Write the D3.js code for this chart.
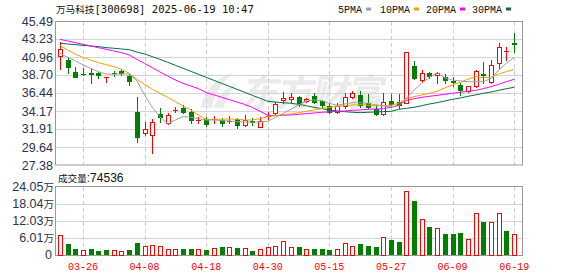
<!DOCTYPE html>
<html>
<head>
<meta charset="utf-8">
<script src="https://cdn.jsdelivr.net/npm/d3@7"></script>
<style>
  body { margin: 0; background: #fff; }
  svg { display: block; font-family: "Liberation Sans", Arial, sans-serif; }
</style>
</head>
<body>
<div id="chart"></div>
<script>
const width = 578;
const height = 276;

// trading days shown
const dates = ["03-21","03-24","03-25","03-26","03-27","03-28","03-31","04-01","04-02","04-03",
  "04-07","04-08","04-09","04-10","04-11","04-14","04-15","04-16","04-17","04-18",
  "04-21","04-22","04-23","04-24","04-25","04-28","04-29","04-30","05-06","05-07",
  "05-08","05-09","05-12","05-13","05-14","05-15","05-16","05-19","05-20","05-21",
  "05-22","05-23","05-26","05-27","05-28","05-29","05-30","06-03","06-04","06-05",
  "06-06","06-09","06-10","06-11","06-12","06-13","06-16","06-17","06-18","06-19"];

const opens = [41.05,40.62,39.08,38.84,38.99,38.99,38.45,38.98,39.16,38.55,
  34.01,31.45,31.10,33.79,32.70,34.27,34.55,34.09,33.00,33.13,
  33.08,33.04,32.88,33.13,32.42,32.96,32.20,33.50,33.96,35.56,
  35.64,35.89,35.47,36.06,35.39,34.80,34.09,34.80,35.97,36.19,
  35.14,34.38,33.75,35.43,35.35,35.14,39.83,38.07,38.99,38.70,
  38.49,37.90,37.44,36.69,37.36,38.79,37.78,40.17,41.70,42.73];
const highs = [42.85,40.95,39.70,39.54,39.54,39.12,38.49,39.24,39.45,38.85,
  35.97,32.75,33.15,34.51,33.88,34.63,34.93,34.38,33.46,33.46,
  33.59,33.33,33.50,33.25,33.67,33.33,33.38,34.01,35.34,36.60,
  36.48,36.06,35.85,36.40,35.56,35.14,35.14,36.40,36.73,36.73,
  36.31,34.93,36.40,36.31,36.31,41.65,40.46,39.33,39.12,39.12,
  38.83,38.41,37.74,37.32,39.33,40.38,40.59,42.69,42.27,44.00];
const lows = [39.40,38.91,38.41,38.70,37.65,38.28,37.78,38.57,38.74,37.40,
  30.31,31.15,28.93,32.83,32.54,34.01,33.88,32.62,32.62,32.29,
  32.62,32.29,32.62,32.08,32.29,32.37,32.20,33.13,33.80,35.14,
  35.35,34.80,35.35,35.14,34.72,33.88,33.88,34.51,35.85,34.72,
  34.51,33.67,33.67,34.80,34.55,35.14,38.16,37.78,38.28,37.74,
  37.74,37.36,36.19,36.60,37.23,37.65,37.65,39.54,40.59,41.64];
const closes = [41.95,39.65,38.41,38.79,38.78,38.66,38.49,38.92,38.94,37.98,
  30.94,31.91,32.75,33.38,33.67,34.32,34.09,32.98,33.06,32.56,
  33.14,32.62,32.95,32.46,33.04,32.80,32.92,33.58,35.05,35.85,
  35.93,35.22,35.68,35.35,34.93,34.09,34.80,35.89,36.40,34.97,
  34.72,33.75,35.35,35.05,34.93,41.55,38.28,38.99,38.58,38.99,
  38.07,37.86,36.81,37.28,39.20,38.75,39.96,42.18,41.74,42.65];
const volumes = [70700,38900,21200,17700,21200,14100,17700,17700,14100,17700,
  42400,31800,35400,31800,21200,21200,21200,21200,21200,17700,
  24800,28300,28300,24800,24800,14100,21200,28300,31800,49500,
  29000,28300,21200,21200,21200,17700,21200,42400,31800,38900,
  31800,28300,63700,53100,46000,226000,191000,127000,99000,95500,
  74300,74300,77800,56600,147500,116700,115600,147500,84900,74536];

const ma5 = [41.43,40.92,40.50,39.96,39.54,39.12,38.83,38.79,38.83,38.83,
  37.99,36.19,34.63,33.46,32.54,33.04,33.46,33.38,33.21,33.04,
  33.04,32.96,32.92,32.83,32.79,32.75,32.79,32.87,33.38,33.88,
  34.38,34.93,35.43,35.56,35.47,35.14,34.89,35.05,35.22,35.22,
  35.14,34.97,34.80,34.72,34.80,35.77,36.81,37.65,38.41,38.99,
  38.35,38.07,37.95,37.86,37.86,37.86,38.28,39.33,40.17,40.92];
const ma10 = [42.43,41.85,41.34,40.92,40.59,40.25,40.00,39.75,39.41,38.91,
  38.16,37.53,36.90,36.40,35.89,35.35,34.80,34.30,33.67,33.13,
  33.13,33.13,33.17,33.13,33.04,33.04,33.21,33.46,33.59,33.71,
  33.80,33.96,34.13,34.30,34.47,34.63,34.76,34.84,34.93,34.97,
  34.89,34.84,34.84,34.89,35.14,35.72,35.98,36.19,36.40,36.65,
  37.07,37.44,37.78,38.16,38.49,38.37,38.41,38.83,39.12,39.41];
const ma20 = [43.19,42.98,42.77,42.56,42.35,42.14,41.93,41.72,41.51,41.22,
  40.67,40.17,39.62,39.08,38.58,38.07,37.65,37.32,36.98,36.50,
  36.20,35.90,35.60,35.30,35.00,34.63,34.13,33.63,33.59,33.63,
  33.67,33.75,33.84,33.92,34.01,34.05,34.13,34.17,34.26,34.30,
  34.38,34.42,34.47,34.63,34.89,35.51,35.72,35.89,36.02,36.14,
  36.27,36.40,36.52,36.65,36.77,36.98,37.23,37.53,37.86,38.16];
const ma30 = [42.69,42.60,42.52,42.43,42.35,42.27,42.14,42.06,41.97,41.89,
  41.59,41.34,41.01,40.67,40.30,39.92,39.54,39.16,38.79,38.41,
  38.03,37.65,37.28,36.90,36.52,36.14,35.77,35.39,35.30,35.22,
  35.14,35.01,34.84,34.63,34.47,34.30,34.17,34.09,34.01,33.96,
  34.01,34.05,34.09,34.13,34.38,34.51,34.63,34.84,35.05,35.22,
  35.43,35.64,35.81,36.02,36.19,36.40,36.56,36.77,36.98,37.15];

const priceTicks = ["45.49","43.23","40.96","38.70","36.44","34.17","31.91","29.64","27.38"];
const volTicks = [240500, 180400, 120300, 60100, 0];
const volTickLabels = ["24.05", "18.04", "12.03", "6.01", "0"];
const dateTicks = ["03-26","04-08","04-18","04-30","05-15","05-27","06-09","06-19"];

const maNames = ["5PMA", "10PMA", "20PMA", "30PMA"];
const maSeries = [ma5, ma10, ma20, ma30];
const maColors = ["#a0a0a0", "#f0a000", "#ff00ff", "#00703c"];

const RED = "#ff0000";
const GREEN = "#008000";
const GRID = "#d4d4d4";
const FRAME = "#999999";
const AXIS_TEXT = "#2a3350";

const svg = d3.select("#chart")
  .append("svg")
  .attr("width", width)
  .attr("height", height);

const x = d3.scaleBand().domain(dates).range([56, 518]);
const cx = d => Math.round(x(d) + x.bandwidth() / 2);
const y = d3.scaleLinear().domain([27.38, 45.49]).range([165, 21]);
const yv = d3.scaleLinear().domain([0, 240500]).range([255, 187]);
const snap = v => Math.round(v) + 0.5;

// watermark
const wm = svg.append("g").attr("fill", "#eaeaea");
wm.append("path")
  .attr("d", "M201,108 C203,92 214,79 234,72 C222,82 214,94 212,108 Z M214,108 C217,96 226,87 238,83 C230,91 225,99 224,108 Z");
wm.append("text")
  .attr("transform", "translate(241,106) skewX(-12)")
  .style("font-family", "'Noto Sans CJK SC'")
  .style("font-weight", "bold")
  .style("font-size", "37px")
  .style("letter-spacing", "-2px")
  .text("东方财富");

// main grid
const grid = svg.append("g");
grid.selectAll("line.h")
  .data(priceTicks.slice(1, -1))
  .join("line")
  .attr("x1", 56).attr("x2", 522)
  .attr("y1", d => snap(y(+d))).attr("y2", d => snap(y(+d)))
  .attr("stroke", GRID);
grid.selectAll("line.v")
  .data(dateTicks)
  .join("line")
  .attr("x1", d => cx(d) + 0.5).attr("x2", d => cx(d) + 0.5)
  .attr("y1", 22).attr("y2", 165)
  .attr("stroke", "#cccccc")
  .attr("stroke-dasharray", "4,3");

// volume grid
grid.append("g").selectAll("line")
  .data(volTicks.slice(1, -1))
  .join("line")
  .attr("x1", 56).attr("x2", 522)
  .attr("y1", d => snap(yv(d))).attr("y2", d => snap(yv(d)))
  .attr("stroke", GRID);
grid.append("g").selectAll("line")
  .data(dateTicks)
  .join("line")
  .attr("x1", d => cx(d) + 0.5).attr("x2", d => cx(d) + 0.5)
  .attr("y1", 187).attr("y2", 255)
  .attr("stroke", "#cccccc")
  .attr("stroke-dasharray", "4,3");

// frames
svg.append("rect").attr("x", 55.5).attr("y", 21.5).attr("width", 467).attr("height", 143.5)
  .attr("fill", "none").attr("stroke", FRAME);
svg.append("rect").attr("x", 55.5).attr("y", 186.5).attr("width", 467).attr("height", 69)
  .attr("fill", "none").attr("stroke", FRAME);

// candles
const candles = dates.map((d, i) => ({
  date: d, open: opens[i], high: highs[i], low: lows[i], close: closes[i],
  vol: volumes[i], volUp: closes[i] >= (i ? closes[i - 1] : opens[i])
}));

const cg = svg.append("g");
candles.forEach(c => {
  const up = c.close >= c.open;
  const col = up ? RED : GREEN;
  const xc = cx(c.date);
  const top = Math.round(y(Math.max(c.open, c.close)));
  const bot = Math.round(y(Math.min(c.open, c.close)));
  const hi = Math.round(y(c.high));
  const lo = Math.round(y(c.low));
  if (up) {
    if (hi < top) cg.append("line").attr("x1", xc + 0.5).attr("x2", xc + 0.5).attr("y1", hi).attr("y2", top).attr("stroke", col);
    if (lo > bot) cg.append("line").attr("x1", xc + 0.5).attr("x2", xc + 0.5).attr("y1", bot).attr("y2", lo + 1).attr("stroke", col);
    if (bot - top < 2) {
      cg.append("rect").attr("x", xc - 2).attr("y", top).attr("width", 5).attr("height", Math.max(1, bot - top)).attr("fill", col);
    } else {
      cg.append("rect").attr("x", xc - 1.5).attr("y", top + 0.5).attr("width", 4).attr("height", bot - top)
        .attr("fill", "#fff").attr("stroke", col);
    }
  } else {
    cg.append("line").attr("x1", xc + 0.5).attr("x2", xc + 0.5).attr("y1", hi).attr("y2", lo + 1).attr("stroke", col);
    cg.append("rect").attr("x", xc - 2).attr("y", top).attr("width", 5).attr("height", Math.max(1, bot - top + 1)).attr("fill", col);
  }
});

// moving averages
const line = d3.line().x((d, i) => x(dates[i]) + x.bandwidth() / 2).y(d => y(d));
svg.append("g").selectAll("path")
  .data(maSeries.slice().reverse())
  .join("path")
  .attr("d", line)
  .attr("fill", "none")
  .attr("stroke", (d, i) => maColors[maColors.length - 1 - i])
  .attr("stroke-width", 1);

// volume bars
svg.append("g").selectAll("rect")
  .data(candles)
  .join("rect")
  .attr("x", d => d.volUp ? cx(d.date) - 1.5 : cx(d.date) - 2)
  .attr("y", d => d.volUp ? Math.round(yv(d.vol)) + 0.5 : Math.round(yv(d.vol)))
  .attr("width", d => d.volUp ? 4 : 5)
  .attr("height", d => 255 - Math.round(yv(d.vol)))
  .attr("fill", d => d.volUp ? "#fff" : GREEN)
  .attr("stroke", d => d.volUp ? RED : "none");

// price axis labels
const yAxis = d3.axisLeft(y)
  .tickValues(priceTicks.map(Number))
  .tickFormat((d, i) => priceTicks[i])
  .tickSize(0)
  .tickPadding(2);
svg.append("g")
  .attr("transform", "translate(55,0)")
  .call(yAxis)
  .call(g => g.select(".domain").remove())
  .selectAll("text")
  .attr("fill", AXIS_TEXT)
  .style("font-family", "'Liberation Sans', Arial, sans-serif")
  .style("font-size", "12.5px");

// volume axis labels
const vl = svg.append("g").attr("fill", AXIS_TEXT).style("font-size", "12.5px");
volTicks.forEach((v, i) => {
  const t = vl.append("text")
    .attr("x", i === volTicks.length - 1 ? 52 : 54)
    .attr("y", yv(v))
    .attr("dy", "0.35em")
    .attr("text-anchor", "end")
    .text(volTickLabels[i]);
  if (v > 0) t.append("tspan").style("font-family", "'Noto Sans CJK SC'").style("font-size", "10.5px").text("万");
});

// date axis
const xAxis = d3.axisBottom(x)
  .tickValues(dateTicks)
  .tickSize(0)
  .tickPadding(0);
svg.append("g")
  .attr("transform", "translate(0,262)")
  .call(xAxis)
  .call(g => g.select(".domain").remove())
  .selectAll("text")
  .attr("fill", RED)
  .attr("dy", "0.75em")
  .style("font-family", "'Liberation Mono', monospace")
  .style("font-size", "10px");

// title
const title = svg.append("text").attr("x", 56).attr("y", 13).attr("fill", "#111");
title.append("tspan").style("font-family", "'Noto Sans CJK SC'").style("font-size", "9.6px").text("万马科技");
title.append("tspan").style("font-family", "'DejaVu Sans Mono', monospace").style("font-size", "10.6px")
  .text("[300698] 2025-06-19 10:47");

// legend
const legendX = [338, 380, 426, 472];
const legend = svg.append("g");
maNames.forEach((n, i) => {
  const t = legend.append("text")
    .attr("x", legendX[i]).attr("y", 12.5)
    .attr("fill", "#111")
    .style("font-family", "'Liberation Mono', monospace")
    .style("font-size", "10px")
    .text(n);
  const w = t.node().getComputedTextLength();
  legend.append("rect")
    .attr("x", legendX[i] + w + 4).attr("y", 7.5)
    .attr("width", 5).attr("height", 3)
    .attr("fill", maColors[i]);
});

// volume caption
const cap = svg.append("text").attr("x", 58).attr("y", 182).attr("fill", "#111");
cap.append("tspan").style("font-family", "'Noto Sans CJK SC'").style("font-size", "9.6px").text("成交量");
cap.append("tspan").style("font-size", "12px").text(":" + volumes[volumes.length - 1]);
</script>
</body>
</html>
